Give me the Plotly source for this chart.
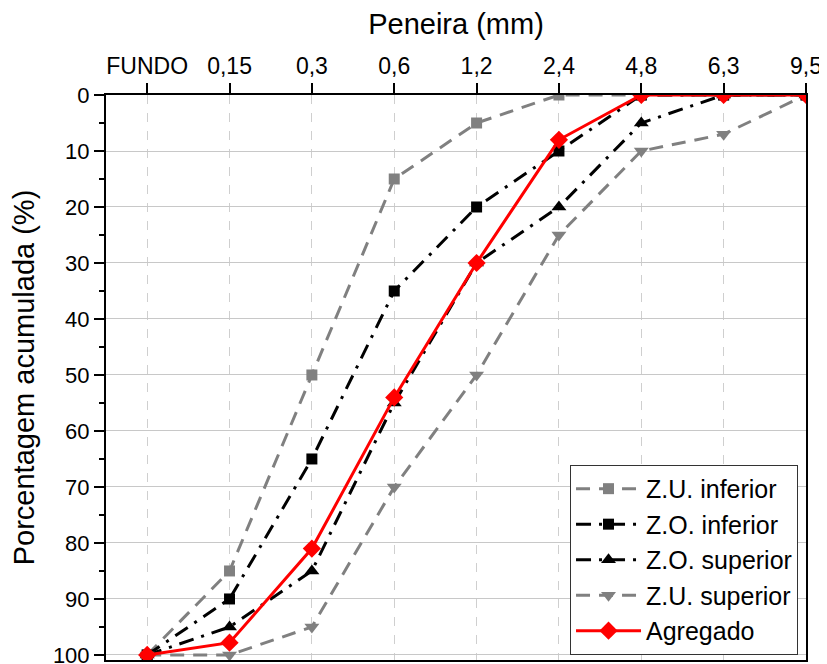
import plotly.graph_objects as go

sieves = ["FUNDO", "0,15", "0,3", "0,6", "1,2", "2,4", "4,8", "6,3", "9,5"]
zu_inferior = [100, 85, 50, 15, 5, 0, 0, 0, 0]
zo_inferior = [100, 90, 65, 35, 20, 10, 0, 0, 0]
zo_superior = [100, 95, 85, 55, 30, 20, 5, 0, 0]
zu_superior = [100, 100, 95, 70, 50, 25, 10, 7, 0]
agregado = [100, 97.8, 81, 54, 30, 8, 0, 0, 0]

xpos = list(range(len(sieves)))
gray = "#808080"

fig = go.Figure()
fig.add_trace(go.Scatter(x=xpos, y=zu_inferior, name="Z.U. inferior", mode="lines+markers", legendgroup="a",
                         line=dict(color=gray, width=3, dash="14px,9px"),
                         marker=dict(symbol="square", size=11, color=gray)))
fig.add_trace(go.Scatter(x=xpos, y=zo_inferior, name="Z.O. inferior", mode="lines+markers", legendgroup="b",
                         line=dict(color="black", width=3, dash="15px,8px,3px,8px"),
                         marker=dict(symbol="square", size=11, color="black")))
fig.add_trace(go.Scatter(x=xpos, y=zo_superior, name="Z.O. superior", mode="lines+markers", legendgroup="c",
                         line=dict(color="black", width=3, dash="15px,8px,3px,8px"),
                         marker=dict(symbol="triangle-up", size=13, color="black")))
fig.add_trace(go.Scatter(x=xpos, y=zu_superior, name="Z.U. superior", mode="lines+markers", legendgroup="d",
                         line=dict(color=gray, width=3, dash="14px,9px"),
                         marker=dict(symbol="triangle-down", size=13, color=gray)))
fig.add_trace(go.Scatter(x=xpos, y=agregado, name="Agregado", mode="lines+markers", legendgroup="e",
                         line=dict(color="#FF0000", width=3),
                         marker=dict(symbol="diamond", size=14, color="#FF0000")))

font_family = "Arial, Liberation Sans, sans-serif"
fig.update_layout(
    width=819, height=656,
    margin=dict(l=98, r=21, t=87, b=4),
    paper_bgcolor="white", plot_bgcolor="white",
    font=dict(family=font_family, size=23, color="black"),
    showlegend=True,
    legend=dict(x=0.9886, y=0.009, xanchor="right", yanchor="bottom",
                bgcolor="white", bordercolor="#333333", borderwidth=1,
                font=dict(size=25), itemwidth=65, tracegroupgap=5,
                traceorder="normal"),
)
fig.update_xaxes(
    side="top", range=[-0.5, 8], tickmode="array", tickvals=xpos, ticktext=sieves,
    ticks="outside", ticklen=10, tickwidth=2, tickcolor="black",
    showline=True, linecolor="black", linewidth=2, mirror=True,
    showgrid=True, gridcolor="#cfcfcf", gridwidth=1, griddash="dash",
    zeroline=False, tickfont=dict(size=23), automargin=False, ticklabeloverflow="allow",
    title=dict(text="Peneira (mm)", font=dict(size=29), standoff=18),
)
fig.update_yaxes(
    range=[100.9, 0], tickmode="array", tickvals=list(range(0, 101, 10)),
    ticks="outside", ticklen=10, tickwidth=2, tickcolor="black",
    minor=dict(ticks="outside", ticklen=5, tickwidth=2, tickcolor="black", dtick=5, tick0=0, showgrid=False),
    showline=True, linecolor="black", linewidth=2, mirror=True,
    showgrid=True, gridcolor="#c8c8c8", gridwidth=1,
    zeroline=False, tickfont=dict(size=22), automargin=False, ticklabeloverflow="allow",
    title=dict(text="Porcentagem acumulada (%)", font=dict(size=29), standoff=23),
)

fig.write_html("out.html")
